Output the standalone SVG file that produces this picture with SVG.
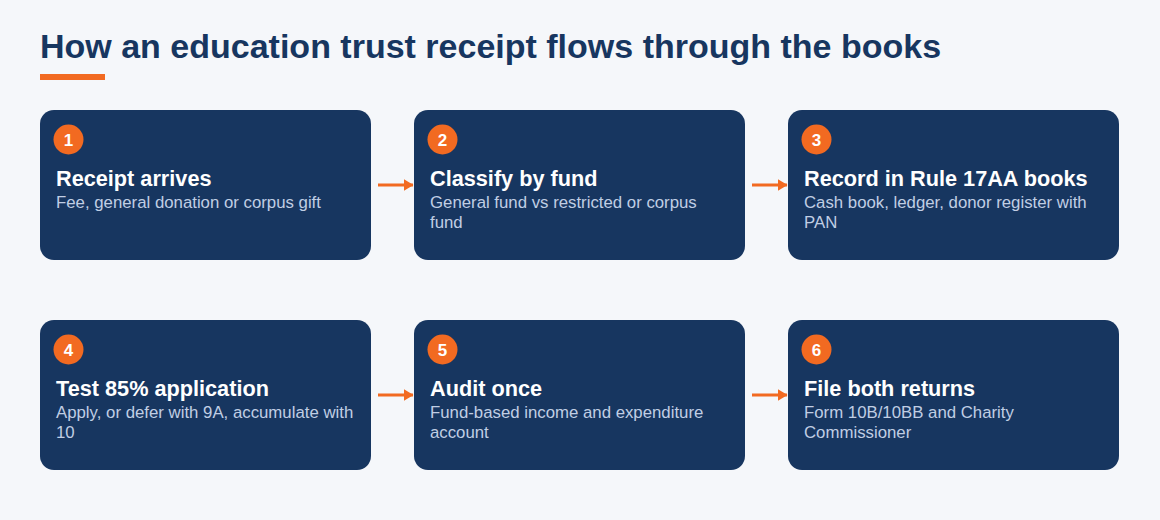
<svg xmlns="http://www.w3.org/2000/svg" width="1160" height="520" viewBox="0 0 1160 520">
<style>
.card{fill:#173660}
.badge{fill:#f26a21}
.num{font-family:"Liberation Sans",Arial,sans-serif;font-weight:bold;font-size:17px;fill:#ffffff;text-anchor:middle}
.t{font-family:"Liberation Sans",Arial,sans-serif;font-weight:bold;font-size:21.7px;fill:#ffffff}
.s{font-family:"Liberation Sans",Arial,sans-serif;font-size:16.8px;fill:#c0cee4}
.conn{stroke:#f26a21;stroke-width:3;fill:none}
</style>
<defs>
<marker id="ah" viewBox="0 0 10 12" refX="9.5" refY="6" markerWidth="10" markerHeight="12" orient="auto" markerUnits="userSpaceOnUse">
<path d="M0,0 L10,6 L0,12 Z" fill="#f26a21"/>
</marker>
</defs>
<rect width="1160" height="520" fill="#f5f7fa"/>
<text x="40" y="58" font-family="Liberation Sans,Arial,sans-serif" font-weight="bold" font-size="34" fill="#173660">How an education trust receipt flows through the books</text>
<rect x="40" y="74" width="65" height="6" fill="#f26a21"/>
<g id="connectors">
<line class="conn" x1="378" y1="185" x2="413" y2="185" marker-end="url(#ah)"/>
<line class="conn" x1="752" y1="185" x2="787" y2="185" marker-end="url(#ah)"/>
<line class="conn" x1="378" y1="395" x2="413" y2="395" marker-end="url(#ah)"/>
<line class="conn" x1="752" y1="395" x2="787" y2="395" marker-end="url(#ah)"/>
</g>
<g id="n1">
<rect class="card" x="40" y="110" width="331" height="150" rx="14"/>
<circle class="badge" cx="68.5" cy="139.5" r="15"/>
<text class="num" x="68.5" y="145.5">1</text>
<text class="t" x="56" y="186">Receipt arrives</text>
<text class="s" x="56" y="208">Fee, general donation or corpus gift</text>
</g>
<g id="n2">
<rect class="card" x="414" y="110" width="331" height="150" rx="14"/>
<circle class="badge" cx="442.5" cy="139.5" r="15"/>
<text class="num" x="442.5" y="145.5">2</text>
<text class="t" x="430" y="186">Classify by fund</text>
<text class="s" x="430" y="208">General fund vs restricted or corpus</text>
<text class="s" x="430" y="228">fund</text>
</g>
<g id="n3">
<rect class="card" x="788" y="110" width="331" height="150" rx="14"/>
<circle class="badge" cx="816.5" cy="139.5" r="15"/>
<text class="num" x="816.5" y="145.5">3</text>
<text class="t" x="804" y="186">Record in Rule 17AA books</text>
<text class="s" x="804" y="208">Cash book, ledger, donor register with</text>
<text class="s" x="804" y="228">PAN</text>
</g>
<g id="n4">
<rect class="card" x="40" y="320" width="331" height="150" rx="14"/>
<circle class="badge" cx="68.5" cy="349.5" r="15"/>
<text class="num" x="68.5" y="355.5">4</text>
<text class="t" x="56" y="396">Test 85% application</text>
<text class="s" x="56" y="418">Apply, or defer with 9A, accumulate with</text>
<text class="s" x="56" y="438">10</text>
</g>
<g id="n5">
<rect class="card" x="414" y="320" width="331" height="150" rx="14"/>
<circle class="badge" cx="442.5" cy="349.5" r="15"/>
<text class="num" x="442.5" y="355.5">5</text>
<text class="t" x="430" y="396">Audit once</text>
<text class="s" x="430" y="418">Fund-based income and expenditure</text>
<text class="s" x="430" y="438">account</text>
</g>
<g id="n6">
<rect class="card" x="788" y="320" width="331" height="150" rx="14"/>
<circle class="badge" cx="816.5" cy="349.5" r="15"/>
<text class="num" x="816.5" y="355.5">6</text>
<text class="t" x="804" y="396">File both returns</text>
<text class="s" x="804" y="418">Form 10B/10BB and Charity</text>
<text class="s" x="804" y="438">Commissioner</text>
</g>
</svg>
